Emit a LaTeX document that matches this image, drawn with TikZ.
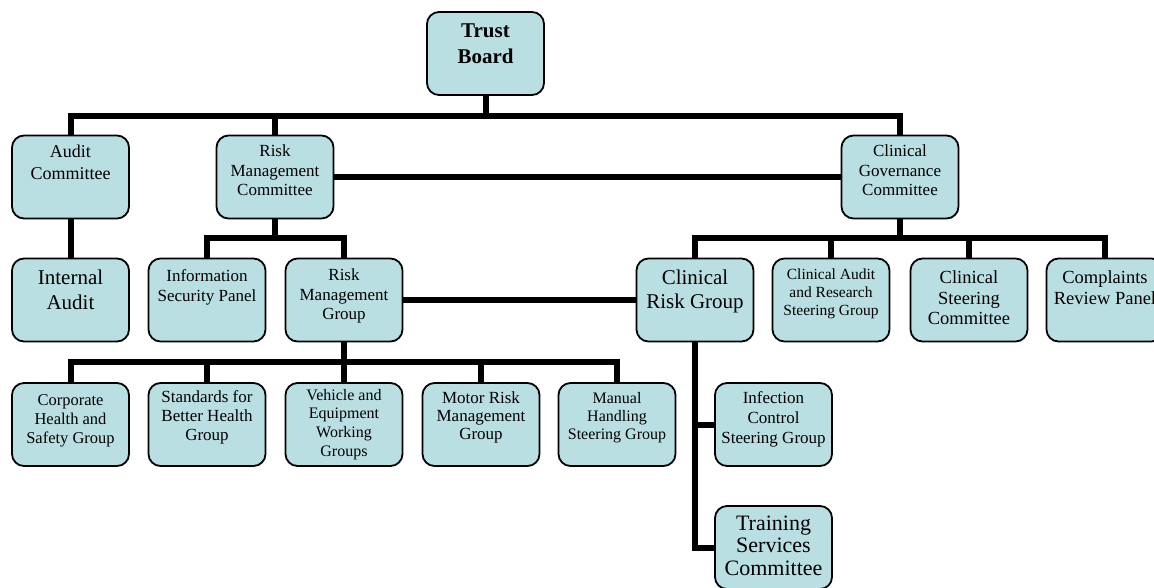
\documentclass[tikz,border=0pt]{standalone}
\usepackage{fontspec}
\setmainfont{Liberation Serif}
\usepackage{tikz}
\usetikzlibrary{positioning}

\definecolor{boxfill}{RGB}{185,223,226}
\newcommand{\fsz}[2]{\fontsize{#1}{#2}\selectfont}
\newcommand{\orgtext}[2][22]{\parbox[c][83pt][t]{115pt}{\centering\rule{0pt}{#1pt}#2\par}}

\begin{document}
\begin{tikzpicture}[x=1pt,y=-1pt,
    orgbox/.style={draw,line width=1.8pt,rounded corners=12pt,fill=boxfill,
        minimum width=117pt,minimum height=83pt,inner sep=0pt},
    link/.style={line width=6pt}]
		\useasboundingbox (0,0) rectangle (1154,587);
		% top of the tree
		\node (tb) at (485.5,53.5) [orgbox,font=\fsz{21}{26}\bfseries] {\orgtext[25]{Trust\\Board}};
		\node (ac) at (70.5,177) [orgbox,font=\fsz{18}{21.5}] {\orgtext[22]{Audit\\Committee}};
		\node (rmc) at (275,177) [orgbox,font=\fsz{17}{19.5}] {\orgtext[21]{Risk\\Management\\Committee}};
		\node (cgc) at (900,177) [orgbox,font=\fsz{17}{19.5}] {\orgtext[21]{Clinical\\Governance\\Committee}};
		% second row
		\node (ia) at (70.5,300) [orgbox,font=\fsz{21}{25}] {\orgtext[26]{Internal\\Audit}};
		\node (isp) at (207,300) [orgbox,font=\fsz{17}{20}] {\orgtext[22.5]{Information\\Security Panel}};
		\node (rmg) at (344,300) [orgbox,font=\fsz{17}{19.7}] {\orgtext[22]{Risk\\Management\\Group}};
		\node (crg) at (695,300) [orgbox,font=\fsz{21}{24}] {\orgtext[26]{Clinical\\Risk Group}};
		\node (cars) at (831,300) [orgbox,font=\fsz{15.5}{18}] {\orgtext[21]{Clinical Audit\\and Research\\Steering Group}};
		\node (csc) at (969,300) [orgbox,font=\fsz{18.5}{20.5}] {\orgtext[25]{Clinical\\Steering\\Committee}};
		\node (crp) at (1105,300) [orgbox,font=\fsz{18.5}{20.5}] {\orgtext[25]{Complaints\\Review Panel}};
		% third row
		\node (chs) at (70.5,424.5) [orgbox,font=\fsz{16.5}{19}] {\orgtext[22]{Corporate\\Health and\\Safety Group}};
		\node (sbh) at (207,424.5) [orgbox,font=\fsz{17}{19}] {\orgtext[19]{Standards for\\Better Health\\Group}};
		\node (vew) at (344,424.5) [orgbox,font=\fsz{16}{18.7}] {\orgtext[17]{Vehicle and\\Equipment\\Working\\Groups}};
		\node (mrm) at (481,424.5) [orgbox,font=\fsz{17}{18.3}] {\orgtext[20]{Motor Risk\\Management\\Group}};
		\node (mhs) at (617,424.5) [orgbox,font=\fsz{16}{18.3}] {\orgtext[20]{Manual\\Handling\\Steering Group}};
		\node (ics) at (773.5,424.5) [orgbox,font=\fsz{17}{20.3}] {\orgtext[20]{Infection\\Control\\Steering Group}};
		\node (tsc) at (773.5,547.5) [orgbox,font=\fsz{22}{22.5}] {\orgtext[24]{Training\\Services\\Committee}};
		% bars
		\coordinate (topbar) at (0,116);
		\coordinate (midbar) at (0,238);
		\coordinate (lowbar) at (0,362);
		% links
		\draw [link] (tb.south) -- (tb.south |- topbar);
		\draw [link] (ac.north) |- (topbar -| cgc.north) -- (cgc.north);
		\draw [link] (rmc.north) -- (rmc.north |- topbar);
		\draw [link] (ac) -- (ia);
		\draw [link] (rmc) -- (cgc);
		\draw [link] (isp.north) |- (midbar -| rmg.north) -- (rmg.north);
		\draw [link] (rmc.south) -- (rmc.south |- midbar);
		\draw [link] (crg.north) |- (midbar -| crp.north) -- (crp.north);
		\draw [link] (cgc.south) -- (cgc.south |- midbar);
		\draw [link] (cars.north) -- (cars.north |- midbar);
		\draw [link] (csc.north) -- (csc.north |- midbar);
		\draw [link] (rmg) -- (crg);
		\draw [link] (chs.north) |- (lowbar -| mhs.north) -- (mhs.north);
		\draw [link] (rmg.south) -- (rmg.south |- lowbar);
		\foreach \n in {sbh,vew,mrm}
			\draw [link] (\n.north) -- (\n.north |- lowbar);
		\draw [link] (crg.south) |- (tsc.west);
		\draw [link] (ics.west) -- (ics.west -| crg.south);
\end{tikzpicture}
\end{document}
